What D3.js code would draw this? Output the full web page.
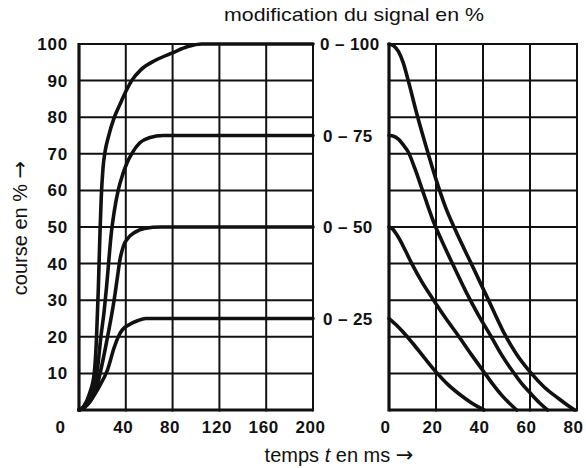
<!DOCTYPE html>
<html>
<head>
<meta charset="utf-8">
<script src="https://cdn.jsdelivr.net/npm/d3@7"></script>
<style>
  html, body { margin: 0; padding: 0; background: #fff; }
  svg { display: block; }
  text { font-family: "Liberation Sans", Arial, Helvetica, sans-serif; fill: #111; }
</style>
</head>
<body>
<svg id="chart" width="586" height="468"></svg>
<script>
// ---------- data ----------
const yTicks = [10, 20, 30, 40, 50, 60, 70, 80, 90, 100];
const xTicksLeft = [0, 40, 80, 120, 160, 200];
const xTicksRight = [0, 20, 40, 60, 80];
const signalLabels = ["0 – 100", "0 – 75", "0 – 50", "0 – 25"];
const signalLevels = [100, 75, 50, 25];

// opening (course vs temps, 0..200 ms)
const rise100 = [[0,0],[4,1],[9,4.5],[13,10],[15,20],[16.5,33],[17.8,47],[19,58],[20.5,66],[22.5,71],[25,74.5],[30,79.8],[35,83.5],[40,87],[45,90],[53,93],[65,95.5],[80,97.6],[93,99.3],[105,100],[200,100]];
const rise75  = [[0,0],[4,0.5],[9,2.5],[13,6],[16,11.8],[18.7,20],[21.5,27],[23.5,33.5],[25,39],[27.5,48],[30,54],[33.5,60],[37.5,64.5],[41,67.5],[45,70],[52,73],[60,74.4],[72,75],[200,75]];
const rise50  = [[0,0],[5,0.8],[10,2.5],[15,6],[18.7,11],[24.4,20],[30,30],[32.5,35.5],[35,41],[38,44.8],[42,47],[48,48.6],[56,49.6],[70,50],[200,50]];
const rise25  = [[0,0],[3,0.5],[10,2.7],[17.3,6.4],[24.4,11],[30,17],[34,20.3],[37,21.9],[42.8,23.3],[50,24.4],[57,25],[70,25],[200,25]];

// closing (course vs temps, 0..80 ms)
const fall100 = [[0,100],[2,99.5],[4,98],[6,95],[8.2,90],[11.8,81],[16,71.5],[20,63],[24,55.5],[28,49.5],[35,40],[42,30.5],[48.6,21.5],[54,15.5],[60.3,10.2],[66,6.3],[72,3.2],[76,1.3],[79,0]];
const fall75  = [[0,75],[2,74.8],[4,74],[6,72.5],[8.2,70.5],[11,66],[14,60.5],[18.9,51.5],[23,45.5],[27,40],[33,32],[38,26],[43.7,19.8],[48,15],[52.9,10.3],[56.5,7.2],[60.3,4.5],[64,2],[67.5,0]];
const fall50  = [[0,50],[1.5,49.5],[3,48.2],[4.7,46.4],[7,43.5],[9.7,40],[14,35],[19,30],[24,25.2],[29.5,20.3],[35,15.2],[40.4,10.4],[44,7.2],[48,4],[51,2],[54.3,0]];
const fall25  = [[0,25],[3,23.3],[6,21.3],[10,18.3],[15,14.3],[20,10.4],[25,7],[30,4.3],[35,2],[39,0.5],[40.5,0]];

// ---------- layout ----------
const svg = d3.select("#chart");
const plotTop = 44, plotBottom = 410;
const y = d3.scaleLinear().domain([0, 100]).range([plotBottom, plotTop]);
const xL = d3.scaleLinear().domain([0, 200]).range([79, 313]);
const xR = d3.scaleLinear().domain([0, 80]).range([389, 577]);
const ink = "#111";
const arrowFont = "DejaVu Sans, sans-serif";

function grid(x, xt) {
  const g = svg.append("g");
  g.selectAll("line.h").data([0].concat(yTicks)).join("line")
    .attr("x1", x.range()[0]).attr("x2", x.range()[1])
    .attr("y1", d => y(d)).attr("y2", d => y(d))
    .attr("stroke", ink).attr("stroke-width", d => d === 0 ? 3 : 2);
  g.selectAll("line.v").data(xt).join("line")
    .attr("x1", d => x(d)).attr("x2", d => x(d))
    .attr("y1", plotTop - 1).attr("y2", plotBottom + 1.5)
    .attr("stroke", ink).attr("stroke-width", (d, i) => i === 0 ? 3.2 : 2);
}
grid(xL, xTicksLeft);
grid(xR, xTicksRight);

// curves
const lineL = d3.line().x(d => xL(d[0])).y(d => y(d[1])).curve(d3.curveMonotoneX);
const lineR = d3.line().x(d => xR(d[0])).y(d => y(d[1])).curve(d3.curveMonotoneX);
[rise100, rise75, rise50, rise25].forEach(s => {
  svg.append("path").attr("d", lineL(s)).attr("fill", "none")
    .attr("stroke", ink).attr("stroke-width", 3.6).attr("stroke-linecap", "round").attr("stroke-linejoin", "round");
});
[fall100, fall75, fall50, fall25].forEach(s => {
  svg.append("path").attr("d", lineR(s)).attr("fill", "none")
    .attr("stroke", ink).attr("stroke-width", 3.6).attr("stroke-linecap", "round").attr("stroke-linejoin", "round");
});

// y axis labels
const yAxis = d3.axisLeft(y).tickValues(yTicks).tickSize(0).tickPadding(0);
const gy = svg.append("g").attr("transform", "translate(68,0)").call(yAxis);
gy.select(".domain").remove();
gy.selectAll("text").attr("font-size", 17).attr("font-weight", "bold").attr("letter-spacing", 0.8)
  .attr("font-family", "Liberation Sans, Arial, sans-serif").attr("fill", ink);

// x axis labels
const xAxisL = d3.axisBottom(xL).tickValues(xTicksLeft).tickSize(0).tickPadding(0).tickFormat(d3.format("d"));
const gxl = svg.append("g").attr("transform", "translate(0,421)").call(xAxisL);
gxl.select(".domain").remove();
gxl.selectAll("text").attr("font-size", 17).attr("font-weight", "bold").attr("letter-spacing", 0.6)
  .attr("font-family", "Liberation Sans, Arial, sans-serif").attr("fill", ink)
  .attr("dx", d => d === 0 ? -19 : -3);

const xAxisR = d3.axisBottom(xR).tickValues(xTicksRight).tickSize(0).tickPadding(0).tickFormat(d3.format("d"));
const gxr = svg.append("g").attr("transform", "translate(0,421)").call(xAxisR);
gxr.select(".domain").remove();
gxr.selectAll("text").attr("font-size", 17).attr("font-weight", "bold").attr("letter-spacing", 0.6)
  .attr("font-family", "Liberation Sans, Arial, sans-serif").attr("fill", ink)
  .attr("dx", -4);

// signal labels
svg.selectAll("text.sig").data(signalLevels).join("text")
  .attr("class", "sig")
  .attr("x", (d, i) => i === 0 ? 320 : 323)
  .attr("y", d => y(d)).attr("dy", "0.36em")
  .attr("font-size", 17).attr("font-weight", "bold").attr("letter-spacing", 0.4)
  .text((d, i) => signalLabels[i]);

// titles
svg.append("text").attr("x", 224).attr("y", 21)
  .attr("font-size", 19).attr("textLength", 260).attr("lengthAdjust", "spacingAndGlyphs")
  .text("modification du signal en %");

const xt = svg.append("text").attr("x", 339).attr("y", 462).attr("text-anchor", "middle").attr("font-size", 20);
xt.append("tspan").text("temps ");
xt.append("tspan").attr("font-style", "italic").text("t");
xt.append("tspan").text(" en ms ");
xt.append("tspan").attr("font-family", arrowFont).attr("font-size", 21).text("→");

const yt = svg.append("text").attr("transform", "translate(27,228) rotate(-90)")
  .attr("text-anchor", "middle").attr("font-size", 20);
yt.append("tspan").text("course en % ");
yt.append("tspan").attr("font-family", arrowFont).attr("font-size", 21).text("→");
</script>
</body>
</html>
